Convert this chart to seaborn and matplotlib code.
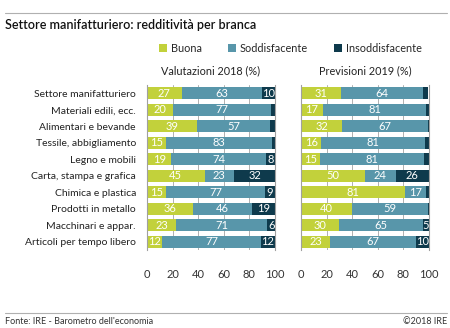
import matplotlib
matplotlib.use("Agg")
import matplotlib.pyplot as plt
import seaborn as sns
import pandas as pd
import numpy as np
from matplotlib.patches import Patch
from matplotlib.lines import Line2D

categories = ["Settore manifatturiero", "Materiali edili, ecc.", "Alimentari e bevande",
              "Tessile, abbigliamento", "Legno e mobili", "Carta, stampa e grafica",
              "Chimica e plastica", "Prodotti in metallo", "Macchinari e appar.",
              "Articoli per tempo libero"]

buona_2018 = [27, 20, 39, 15, 19, 45, 15, 36, 23, 12]
sodd_2018 = [63, 77, 57, 83, 74, 23, 77, 46, 71, 77]
insodd_2018 = [10, 3, 4, 2, 8, 32, 9, 19, 6, 12]

buona_2019 = [31, 17, 32, 16, 15, 50, 81, 40, 30, 23]
sodd_2019 = [64, 81, 67, 81, 81, 24, 17, 59, 65, 67]
insodd_2019 = [4, 2, 1, 3, 4, 26, 2, 1, 5, 10]

series_names = ["Buona", "Soddisfacente", "Insoddisfacente"]
panel_titles = ["Valutazioni 2018 (%)", "Previsioni 2019 (%)"]
xticks = [0, 20, 40, 60, 80, 100]

colors = ["#c2d13b", "#5896aa", "#0e3a4c"]

sns.set_theme(style="white")
plt.rcParams['font.family'] = ['Lato', 'DejaVu Sans']

fig = plt.figure(figsize=(4.5, 3.28), dpi=100)
axL = fig.add_axes([147/450, 1-250/328, 128/450, 165/328])
axR = fig.add_axes([301/450, 1-250/328, 128/450, 165/328])

def draw(ax, b, s, i, title, show_labels):
    df = pd.DataFrame({"cat": categories, "b": b, "s": s, "i": i})
    df["c2"] = df["b"] + df["s"]
    df["c3"] = df["c2"] + df["i"]
    for col, colr in zip(["c3", "c2", "b"], colors[::-1]):
        sns.barplot(data=df, x=col, y="cat", color=colr, orient="h", ax=ax,
                    width=0.74, saturation=1, linewidth=0, zorder=3)
    for k in range(len(categories)):
        starts = [0, df["b"][k], df["c2"][k]]
        vals = [df["b"][k], df["s"][k], df["i"][k]]
        for st, v in zip(starts, vals):
            if v >= 5:
                xc = (st + 100) / 2 if st + v > 100 else st + v / 2
                ax.text(xc, k, str(v), ha="center", va="center", color="white",
                        fontsize=8, zorder=5)
    ax.set_xlim(0, 100)
    ax.set_ylim(len(categories) - 0.5, -0.5)
    ax.set_xticks(xticks)
    ax.set_xticklabels([str(t) for t in xticks], fontsize=8, color="#333333")
    ax.tick_params(axis="x", length=0, pad=14)
    ax.set_xlabel("")
    ax.set_ylabel("")
    ax.grid(axis="x", color="#b0b0b0", linewidth=0.7, zorder=0)
    for name, sp in ax.spines.items():
        if name in ("left", "right"):
            sp.set_visible(True)
            sp.set_color("#a0a0a0")
            sp.set_linewidth(0.8)
            sp.set_zorder(4)
        else:
            sp.set_visible(False)
    ax.set_title(title, fontsize=7.8, color="#222222", pad=8)
    ax.set_yticks(range(len(categories)))
    if show_labels:
        ax.set_yticklabels(categories, fontsize=7.5, color="#222222")
        ax.tick_params(axis="y", length=0, pad=8)
    else:
        ax.set_yticklabels([])
        ax.tick_params(axis="y", length=0)

draw(axL, buona_2018, sodd_2018, insodd_2018, panel_titles[0], True)
draw(axR, buona_2019, sodd_2019, insodd_2019, panel_titles[1], False)

handles = [Patch(facecolor=c, edgecolor="none", label=n) for c, n in zip(colors, series_names)]
fig.legend(handles=handles, loc="center", bbox_to_anchor=(290/450, 1-48/328), ncol=3,
           frameon=False, fontsize=7.8, handlelength=0.8, handleheight=0.8,
           handletextpad=0.3, columnspacing=2.4)

fig.text(5/450, 1-25/328, "Settore manifatturiero: redditività per branca",
         fontsize=9, color="#111111", va="center", ha="left", fontweight="semibold")
fig.add_artist(Line2D([5/450, 447/450], [1-13/328, 1-13/328], color="#b0b0b0", linewidth=0.8))
fig.add_artist(Line2D([5/450, 447/450], [1-313/328, 1-313/328], color="#b0b0b0", linewidth=0.8))
fig.text(5/450, 1-321/328, "Fonte: IRE - Barometro dell'economia", fontsize=6.5,
         color="#333333", va="center", ha="left")
fig.text(447/450, 1-321/328, "©2018 IRE", fontsize=6.5, color="#333333", va="center", ha="right")

fig.savefig("out.png", dpi=100, facecolor="white")
